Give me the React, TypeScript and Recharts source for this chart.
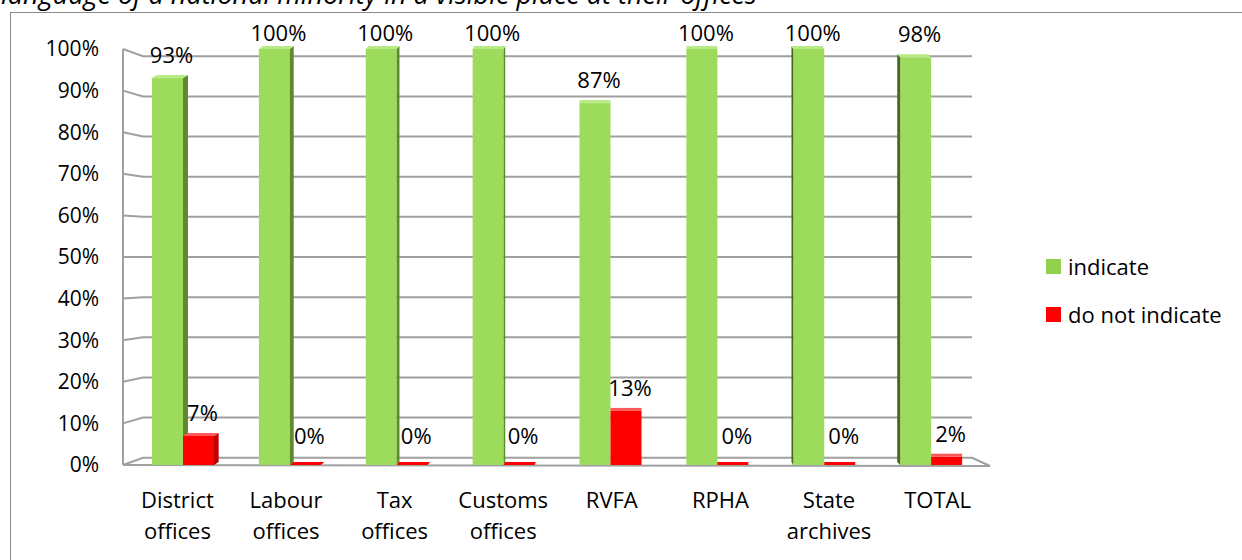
import React from 'react';
import { BarChart, Bar, XAxis, YAxis, CartesianGrid, LabelList } from 'recharts';

const categories = ['District offices', 'Labour offices', 'Tax offices', 'Customs offices', 'RVFA', 'RPHA', 'State archives', 'TOTAL'];
const indicate = [93, 100, 100, 100, 87, 100, 100, 98];
const doNotIndicate = [7, 0, 0, 0, 13, 0, 0, 2];
const yTicks = [0, 10, 20, 30, 40, 50, 60, 70, 80, 90, 100];
const legendItems = [
  { label: 'indicate', color: '#92d050' },
  { label: 'do not indicate', color: '#ff0000' },
];

const chartData = categories.map((name, i) => ({
  name,
  indicate: indicate[i],
  doNot: doNotIndicate[i],
}));

const FONT = '"Open Sans", "Noto Sans", sans-serif';
const PLOT_TOP = 49;
const PLOT_BOTTOM = 465;
const MID = (PLOT_TOP + PLOT_BOTTOM) / 2;
const VANISH = 640;
const GRID = '#a0a0a0';

const colors = {
  green: { front: '#9cdb5c', side: '#5d8a2e', sideLeft: '#46691f', top: '#b8eb86' },
  red: { front: '#ff0000', side: '#c00000', sideLeft: '#a00000', top: '#ff5a5a' },
};

const backY = (y: number) => MID + (y - MID) * 0.965;

// back wall gridline plus the slanted piece on the left wall
const GridLine = (props: any) => {
  const { x1, x2, y1, index } = props;
  const yb = backY(y1);
  const bx1 = x1 + 20;
  const bx2 = x2 - 18;
  return (
    <g key={`g-${index}`}>
      <polyline points={`${x1},${y1} ${bx1},${yb} ${bx2},${yb}`} fill="none" stroke={GRID} strokeWidth={2} />
      {y1 >= PLOT_BOTTOM - 1 && (
        <polyline points={`${x1},${y1} ${x2},${y1 + 1} ${bx2},${yb}`} fill="none" stroke={GRID} strokeWidth={2} />
      )}
    </g>
  );
};

const make3D = (c: typeof colors.green, allowLeft: boolean) => (props: any) => {
  const { x, y, width, height } = props;
  const cx = x + width / 2;
  let sw = (VANISH - cx) / 95;
  if (!allowLeft && sw < 0) sw = 0;
  if (Math.abs(sw) < 0.8) sw = 0;
  const d = 3;
  const h = Math.max(height, 0);
  const parts: React.ReactNode[] = [];
  parts.push(<rect key="f" x={x} y={y} width={width} height={h} fill={c.front} />);
  if (sw > 0) {
    parts.push(
      <polygon key="s" points={`${x + width},${y} ${x + width + sw},${y - d} ${x + width + sw},${y + h - d} ${x + width},${y + h}`} fill={c.side} />
    );
  } else if (sw < 0) {
    parts.push(
      <polygon key="s" points={`${x},${y} ${x + sw},${y - d} ${x + sw},${y + h - d} ${x},${y + h}`} fill={c.sideLeft} />
    );
  }
  parts.push(
    <polygon key="t" points={`${x},${y} ${x + width},${y} ${x + width + sw},${y - d} ${x + sw},${y - d}`} fill={h > 0 ? c.top : c.front} />
  );
  return <g>{parts}</g>;
};

const ValueLabel = (props: any) => {
  const { x, y, width, height, value } = props;
  const gap = height > 0.5 ? 15 : 21;
  const ty = Math.max(y - gap, 41);
  return (
    <text x={x + width / 2 + 4} y={ty} textAnchor="middle" fontSize={22} fontFamily={FONT} fill="#000">
      {value}%
    </text>
  );
};

const CategoryTick = (props: any) => {
  const { x, y, payload } = props;
  const label: string = payload.value;
  const sp = label.indexOf(' ');
  const lines = sp > 0 ? [label.slice(0, sp), label.slice(sp + 1)] : [label];
  const shift = (x - 557) / 62;
  return (
    <text x={x + shift} y={y} textAnchor="middle" fontSize={22} fontFamily={FONT} fill="#000">
      {lines.map((l, i) => (
        <tspan key={i} x={x + shift} y={y + 43 + i * 31}>
          {l}
        </tspan>
      ))}
    </text>
  );
};

export default function App() {
  return (
    <div style={{ position: 'absolute', left: 0, top: 0, width: 1242, height: 560, overflow: 'hidden', background: '#fff' }}>
      <div
        style={{
          position: 'absolute',
          left: 10,
          top: 12,
          width: 1260,
          height: 600,
          border: '1.5px solid #8a8a8a',
          boxSizing: 'border-box',
        }}
      />
      <svg width={1242} height={20} style={{ position: 'absolute', left: 0, top: 0 }}>
        <text x={1} y={4} fontSize={27} fontStyle="italic" fontFamily={FONT} fill="#000">
          language of a national minority in a visible place at their offices
        </text>
      </svg>
      <div style={{ position: 'absolute', left: 0, top: 0 }}>
        <BarChart
          width={1242}
          height={560}
          data={chartData}
          margin={{ top: PLOT_TOP, right: 252, bottom: 560 - PLOT_BOTTOM - 30, left: 43 }}
          barSize={31}
          barGap={0}
        >
          <CartesianGrid vertical={false} horizontal={GridLine} />
          <XAxis
            dataKey="name"
            height={30}
            axisLine={false}
            tickLine={false}
            tickSize={0}
            tickMargin={0}
            interval={0}
            padding={{ left: 7, right: 5 }}
            tick={CategoryTick}
          />
          <YAxis
            width={80}
            domain={[0, 100]}
            ticks={yTicks}
            interval={0}
            tickFormatter={(v) => `${v}%`}
            tickLine={false}
            tickSize={0}
            tickMargin={24}
            axisLine={{ stroke: GRID, strokeWidth: 2 }}
            tick={{ fontSize: 21, fontFamily: FONT, fill: '#000' }}
          />
          <Bar dataKey="indicate" name="indicate" fill="#9cdb5c" isAnimationActive={false} shape={make3D(colors.green, true)}>
            <LabelList dataKey="indicate" content={ValueLabel} />
          </Bar>
          <Bar dataKey="doNot" name="do not indicate" fill="#ff0000" isAnimationActive={false} shape={make3D(colors.red, false)}>
            <LabelList dataKey="doNot" content={ValueLabel} />
          </Bar>
        </BarChart>
      </div>
      <div style={{ position: 'absolute', left: 1046, top: 253, fontFamily: FONT, fontSize: 22, color: '#000' }}>
        {legendItems.map((item, i) => (
          <div key={item.label} style={{ display: 'flex', alignItems: 'center', height: 26, marginBottom: i === 0 ? 22 : 0 }}>
            <span style={{ width: 15, height: 15, background: item.color, display: 'inline-block', marginRight: 7 }} />
            <span>{item.label}</span>
          </div>
        ))}
      </div>
    </div>
  );
}
